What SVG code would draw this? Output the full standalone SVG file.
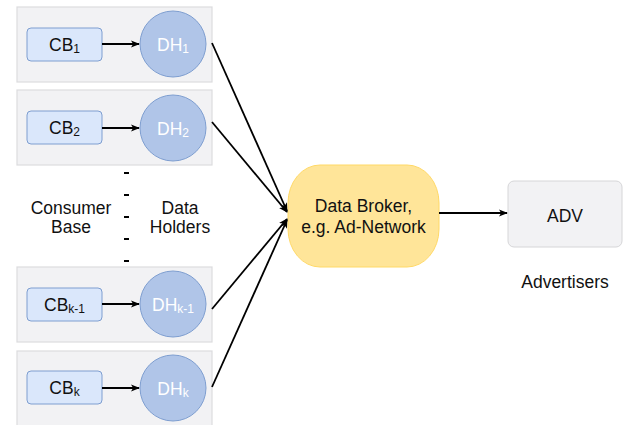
<svg xmlns="http://www.w3.org/2000/svg" width="627" height="425" viewBox="0 0 627 425">
  <style>
    .lane { fill: #F2F2F4; stroke: #DCDCDE; stroke-width: 1.2; }
    .cb { fill: #DAE7FB; stroke: #7E9ED0; stroke-width: 1; }
    .dh { fill: #B0C5E8; stroke: #7E9ED0; stroke-width: 1; }
    .t { font-family: "Liberation Sans", Arial, sans-serif; font-size: 17.5px; fill: #111; text-anchor: middle; }
    .tw { font-family: "Liberation Sans", Arial, sans-serif; font-size: 17.5px; fill: #FFFFFF; text-anchor: middle; }
    .sub { font-size: 12px; }
    .edge { stroke: #000; stroke-width: 1.8; fill: none; marker-end: url(#arrow); }
    .broker { fill: #FFE599; stroke: #FFD966; stroke-width: 1; }
    .adv { fill: #F2F2F4; stroke: #D6D6D8; stroke-width: 1; }
  </style>
  <defs>
    <marker id="arrow" viewBox="0 0 10 10" refX="9" refY="5" markerWidth="5" markerHeight="5" orient="auto" markerUnits="strokeWidth">
      <path d="M0,1 L10,5 L0,9 L2.5,5 Z" fill="#000"/>
    </marker>
  </defs>

  <!-- row lanes -->
  <rect class="lane" x="17" y="7" width="195" height="75"/>
  <rect class="lane" x="17" y="90" width="195" height="75"/>
  <rect class="lane" x="17" y="267" width="195" height="75"/>
  <rect class="lane" x="17" y="351" width="195" height="76"/>

  <!-- ellipsis between rows -->
  <line x1="126.5" y1="172" x2="126.5" y2="262" stroke="#000" stroke-width="5" stroke-dasharray="2 20"/>

  <text class="t" x="71" y="214">Consumer</text>
  <text class="t" x="71" y="233">Base</text>
  <text class="t" x="180" y="214">Data</text>
  <text class="t" x="180" y="233">Holders</text>

  <g id="cb1"><rect class="cb" x="27" y="28" width="75" height="33" rx="4"/><text class="t" x="64.5" y="50.5">CB<tspan class="sub" dy="2.5">1</tspan></text></g>
  <g id="dh1"><circle class="dh" cx="173" cy="44" r="33"/><text class="tw" x="173" y="50.5">DH<tspan class="sub" dy="2.5">1</tspan></text></g>

  <g id="cb2"><rect class="cb" x="27" y="111" width="75" height="33" rx="4"/><text class="t" x="64.5" y="133.5">CB<tspan class="sub" dy="2.5">2</tspan></text></g>
  <g id="dh2"><circle class="dh" cx="173" cy="128" r="33"/><text class="tw" x="173" y="134.5">DH<tspan class="sub" dy="2.5">2</tspan></text></g>

  <g id="cbk1"><rect class="cb" x="27" y="288" width="75" height="33" rx="4"/><text class="t" x="64.5" y="310.5">CB<tspan class="sub" dy="2.5">k-1</tspan></text></g>
  <g id="dhk1"><circle class="dh" cx="173" cy="304" r="33"/><text class="tw" x="173" y="310.5">DH<tspan class="sub" dy="2.5">k-1</tspan></text></g>

  <g id="cbk"><rect class="cb" x="27" y="371" width="75" height="33" rx="4"/><text class="t" x="64.5" y="393.5">CB<tspan class="sub" dy="2.5">k</tspan></text></g>
  <g id="dhk"><circle class="dh" cx="173" cy="388" r="33"/><text class="tw" x="173" y="394.5">DH<tspan class="sub" dy="2.5">k</tspan></text></g>

  <g id="broker">
    <rect class="broker" x="288" y="165" width="151" height="102" rx="32" ry="38"/>
    <text class="t" x="363.5" y="212">Data Broker,</text>
    <text class="t" x="363.5" y="233">e.g. Ad-Network</text>
  </g>

  <g id="adv">
    <rect class="adv" x="508" y="181" width="114" height="66" rx="6"/>
    <text class="t" x="565" y="222">ADV</text>
  </g>
  <text class="t" x="565" y="288">Advertisers</text>

  <g id="connectors">
    <line class="edge" x1="102" y1="44" x2="139" y2="44"/>
    <line class="edge" x1="102" y1="128" x2="139" y2="128"/>
    <line class="edge" x1="102" y1="304" x2="139" y2="304"/>
    <line class="edge" x1="102" y1="388" x2="139" y2="388"/>
    <line class="edge" x1="212" y1="43" x2="287" y2="211"/>
    <line class="edge" x1="212" y1="122" x2="287" y2="212"/>
    <line class="edge" x1="212" y1="309" x2="287" y2="219"/>
    <line class="edge" x1="212" y1="387" x2="287" y2="220"/>
    <line class="edge" x1="439" y1="213" x2="507" y2="213"/>
  </g>
</svg>
